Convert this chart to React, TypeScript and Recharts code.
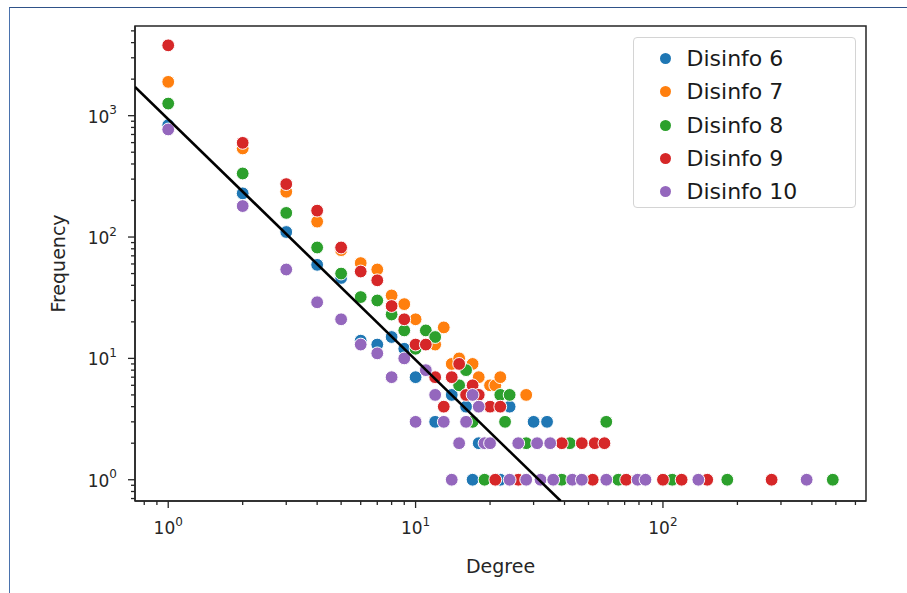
import React from 'react';
import { ScatterChart, Scatter, XAxis, YAxis, Legend, ReferenceArea } from 'recharts';

const seriesNames = ['Disinfo 6', 'Disinfo 7', 'Disinfo 8', 'Disinfo 9', 'Disinfo 10'];
const seriesColors = ['#1f77b4', '#ff7f0e', '#2ca02c', '#d62728', '#9467bd'];

const d6Degree = [1, 2, 3, 4, 5, 6, 7, 8, 9, 10, 12, 14, 16, 17, 18, 22, 24, 30, 34];
const d6Freq = [835, 229, 110, 59, 46, 14, 13, 15, 12, 7, 3, 5, 4, 1, 2, 1, 4, 3, 3];

const d7Degree = [1, 2, 3, 4, 5, 6, 7, 8, 9, 10, 12, 13, 14, 15, 17, 18, 20, 21, 22, 28];
const d7Freq = [1900, 537, 236, 134, 78, 61, 54, 33, 28, 21, 13, 18, 9, 10, 9, 7, 6, 6, 7, 5];

const d8Degree = [1, 2, 3, 4, 5, 6, 7, 8, 9, 10, 11, 12, 15, 16, 17, 19, 22, 23, 24, 28, 39, 42, 59, 66, 109, 182, 486];
const d8Freq = [1259, 334, 158, 82, 50, 32, 30, 23, 17, 12, 17, 15, 6, 8, 3, 1, 5, 3, 5, 2, 1, 2, 3, 1, 1, 1, 1];

const d9Degree = [1, 2, 3, 4, 5, 6, 7, 8, 9, 10, 11, 12, 13, 14, 15, 16, 17, 18, 20, 21, 22, 26, 39, 47, 52, 53, 58, 71, 100, 119, 151, 275];
const d9Freq = [3800, 597, 273, 165, 82, 52, 44, 27, 21, 13, 13, 7, 4, 7, 9, 5, 6, 5, 4, 1, 4, 1, 2, 2, 1, 2, 2, 1, 1, 1, 1, 1];

const d10Degree = [1, 2, 3, 4, 5, 6, 7, 8, 9, 10, 11, 12, 13, 14, 15, 16, 17, 18, 19, 20, 24, 26, 28, 31, 32, 35, 36, 43, 47, 59, 79, 85, 139, 381];
const d10Freq = [770, 180, 54, 29, 21, 13, 11, 7, 10, 3, 8, 5, 3, 1, 2, 3, 5, 4, 2, 2, 1, 2, 1, 2, 1, 2, 1, 1, 1, 1, 1, 1, 1, 1];

const fitDegree = [0.734, 38.6];
const fitFreq = [1726, 0.668];

const xDomain = [0.734, 662];
const yDomain = [0.668, 5483];
const xTicks = [0.8, 0.9, 1, 2, 3, 4, 5, 6, 7, 8, 9, 10, 20, 30, 40, 50, 60, 70, 80, 90, 100, 200, 300, 400, 500, 600];
const xMajor = [1, 10, 100];
const yTicks = [0.7, 0.8, 0.9, 1, 2, 3, 4, 5, 6, 7, 8, 9, 10, 20, 30, 40, 50, 60, 70, 80, 90, 100, 200, 300, 400, 500, 600, 700, 800, 900, 1000, 2000, 3000, 4000, 5000];
const yMajor = [1, 10, 100, 1000];

const zip = (xs: number[], ys: number[]) => xs.map((x, i) => ({ degree: x, freq: ys[i] }));
const seriesData = [
  zip(d6Degree, d6Freq),
  zip(d7Degree, d7Freq),
  zip(d8Degree, d8Freq),
  zip(d9Degree, d9Freq),
  zip(d10Degree, d10Freq),
];
const fitData = zip(fitDegree, fitFreq);

const FONT = 'DejaVu Sans';
const AXIS_COLOR = '#262626';

const XTick = (props: any) => {
  const { x, y, payload } = props;
  const v = payload.value;
  const major = xMajor.includes(v);
  const exp = Math.round(Math.log10(v));
  return (
    <g>
      <line x1={x} x2={x} y1={y} y2={y + (major ? 7 : 4)} stroke={AXIS_COLOR} strokeWidth={1.3} />
      {major && (
        <text x={x} y={y + 33} textAnchor="middle" fontFamily={FONT} fontSize={17} fill="#262626">
          10<tspan dy={-8.5} fontSize={12}>{exp}</tspan>
        </text>
      )}
    </g>
  );
};

const YTick = (props: any) => {
  const { x, y, payload } = props;
  const v = payload.value;
  const major = yMajor.includes(v);
  const exp = Math.round(Math.log10(v));
  return (
    <g>
      <line x1={x} x2={x - (major ? 7 : 4)} y1={y} y2={y} stroke={AXIS_COLOR} strokeWidth={1.3} />
      {major && (
        <text x={x - 18} y={y + 7} textAnchor="end" fontFamily={FONT} fontSize={17} fill="#262626">
          10<tspan dy={-8.5} fontSize={12}>{exp}</tspan>
        </text>
      )}
    </g>
  );
};

const XLabel = (props: any) => {
  const vb = props.viewBox || { x: 135, y: 501, width: 731, height: 60 };
  return (
    <text x={vb.x + vb.width / 2} y={vb.y + 72} textAnchor="middle" fontFamily={FONT} fontSize={19} fill="#262626">
      Degree
    </text>
  );
};

const YLabel = (props: any) => {
  const vb = props.viewBox || { x: 75, y: 26, width: 60, height: 475 };
  const cx = vb.x - 17;
  const cy = vb.y + vb.height / 2;
  return (
    <text x={cx} y={cy} textAnchor="middle" fontFamily={FONT} fontSize={19} fill="#262626" transform={`rotate(-90 ${cx} ${cy})`} dominantBaseline="central">
      Frequency
    </text>
  );
};

const makeDot = (color: string) => (props: any) => {
  const { cx, cy } = props;
  if (cx == null || cy == null) return <g />;
  return <circle cx={cx} cy={cy} r={6.4} fill={color} stroke="#ffffff" strokeWidth={1} />;
};

const renderLegend = () => (
  <div
    style={{
      width: 223,
      height: 171,
      boxSizing: 'border-box',
      border: '1.3px solid #d4d4d4',
      borderRadius: 4,
      background: '#ffffff',
      position: 'relative',
      fontFamily: FONT,
    }}
  >
    {seriesNames.map((name, i) => (
      <div
        key={name}
        style={{
          position: 'absolute',
          left: 0,
          top: 4 + i * 33.25,
          height: 33,
          display: 'flex',
          alignItems: 'center',
        }}
      >
        <span
          style={{
            display: 'inline-block',
            width: 11,
            height: 11,
            borderRadius: '50%',
            background: seriesColors[i],
            marginLeft: 25.5,
            marginRight: 16,
          }}
        />
        <span style={{ fontSize: 22, color: '#1a1a1a', lineHeight: '33px', whiteSpace: 'nowrap' }}>{name}</span>
      </div>
    ))}
  </div>
);

export default function App() {
  return (
    <div style={{ position: 'absolute', left: 0, top: 0, width: 907, height: 593, background: '#ffffff', overflow: 'hidden' }}>
      <div
        style={{
          position: 'absolute',
          left: 9,
          top: 7,
          width: 920,
          height: 620,
          borderLeft: '1.6px solid #4a72ad',
          borderTop: '1.6px solid #2f5288',
        }}
      />
      <div style={{ position: 'absolute', left: 0, top: 0 }}>
        <ScatterChart width={907} height={593} margin={{ top: 26, right: 41, bottom: 32, left: 75 }}>
          <XAxis
            dataKey="degree"
            type="number"
            scale="log"
            domain={xDomain}
            allowDataOverflow
            ticks={xTicks}
            interval={0}
            tickSize={0}
            tickMargin={0}
            tickLine={false}
            tick={<XTick />}
            height={60}
            axisLine={{ stroke: AXIS_COLOR, strokeWidth: 1.5 }}
            label={<XLabel />}
          />
          <YAxis
            dataKey="freq"
            type="number"
            scale="log"
            domain={yDomain}
            allowDataOverflow
            ticks={yTicks}
            interval={0}
            tickSize={0}
            tickMargin={0}
            tickLine={false}
            tick={<YTick />}
            width={60}
            axisLine={{ stroke: AXIS_COLOR, strokeWidth: 1.5 }}
            label={<YLabel />}
          />
          <ReferenceArea
            x1={xDomain[0]}
            x2={xDomain[1]}
            y1={yDomain[0]}
            y2={yDomain[1]}
            ifOverflow="visible"
            fill="none"
            fillOpacity={0}
            stroke={AXIS_COLOR}
            strokeWidth={1.5}
          />
          {seriesData.map((data, i) => (
            <Scatter
              key={seriesNames[i]}
              name={seriesNames[i]}
              data={data}
              fill={seriesColors[i]}
              shape={makeDot(seriesColors[i])}
              isAnimationActive={false}
            />
          ))}
          <Scatter
            name="fit"
            data={fitData}
            line={{ stroke: '#000000', strokeWidth: 2.6 }}
            shape={() => <g />}
            legendType="none"
            isAnimationActive={false}
          />
          <Legend
            layout="horizontal"
            verticalAlign="middle"
            align="center"
            wrapperStyle={{ left: 633, top: 37, width: 223, height: 171 }}
            content={renderLegend}
          />
        </ScatterChart>
      </div>
    </div>
  );
}
